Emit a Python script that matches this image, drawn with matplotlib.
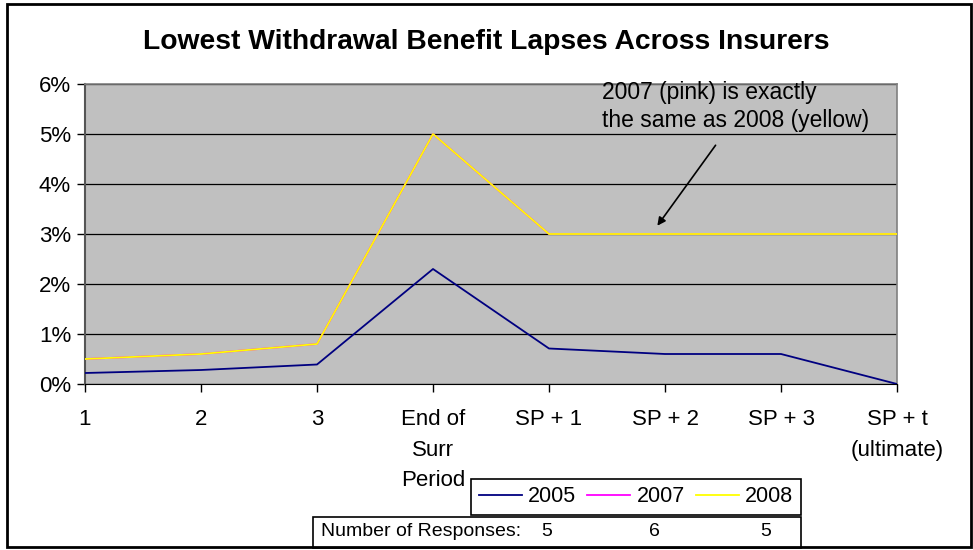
import matplotlib
matplotlib.use("Agg")
import matplotlib.pyplot as plt
from matplotlib.patches import Rectangle
from matplotlib.ticker import PercentFormatter

# chart data (percent)
categories = ["1", "2", "3", "End of\nSurr\nPeriod", "SP + 1", "SP + 2", "SP + 3", "SP + t\n(ultimate)"]
lapse_2005 = [0.22, 0.28, 0.39, 2.3, 0.71, 0.6, 0.6, 0.0]
lapse_2007 = [0.5, 0.6, 0.8, 5.0, 3.0, 3.0, 3.0, 3.0]
lapse_2008 = [0.5, 0.6, 0.8, 5.0, 3.0, 3.0, 3.0, 3.0]
years = ["2005", "2007", "2008"]
responses = [5, 6, 5]

plt.rcParams['font.family'] = ['Liberation Sans', 'DejaVu Sans']

W, H = 973, 550
fig = plt.figure(figsize=(W / 100, H / 100), dpi=100)

def fx(px):
    return px / W

def fy(py):
    return 1 - py / H

# plot area
ax = fig.add_axes([fx(85), fy(384), fx(897 - 85), (384 - 84) / H])
ax.set_facecolor("#C0C0C0")
xs = list(range(len(categories)))
ax.plot(xs, lapse_2005, color="#000080", lw=1.3, label=years[0], zorder=3)
ax.plot(xs, lapse_2007, color="#FF00FF", lw=1.3, label=years[1], zorder=3)
ax.plot(xs, lapse_2008, color="#FFFF00", lw=1.3, label=years[2], zorder=4)

ax.set_xlim(0, len(categories) - 1)
ax.set_ylim(0, 6)
ax.set_yticks(range(0, 7))
ax.yaxis.set_major_formatter(PercentFormatter(100, decimals=0))
ax.set_xticks(xs)
ax.set_xticklabels(categories, linespacing=1.6, fontsize=16, va="top")
ax.tick_params(axis="y", labelsize=16, length=6, width=1, color="black", pad=4)
ax.tick_params(axis="x", length=6, width=1, color="black", pad=12)
ax.grid(axis="y", color="black", lw=0.9)
ax.set_axisbelow(True)
for s in ["top", "right"]:
    ax.spines[s].set_color("#808080")
    ax.spines[s].set_linewidth(1.2)
ax.spines["left"].set_color("#555555")
ax.spines["left"].set_linewidth(1.5)
ax.spines["bottom"].set_color("black")

# annotation
ax.text(4.457, 6.05, "2007 (pink) is exactly\nthe same as 2008 (yellow)", fontsize=16.5,
        va="top", ha="left", linespacing=1.25, clip_on=False)
ax.annotate("", xy=(4.92, 3.12), xytext=(5.45, 4.82),
            arrowprops=dict(arrowstyle="-|>", color="black", lw=1.2, mutation_scale=12))

fig.text(0.5, fy(42), "Lowest Withdrawal Benefit Lapses Across Insurers",
         fontsize=20.3, fontweight="bold", ha="center", va="center")

# legend
leg = fig.legend(loc="center", bbox_to_anchor=(fx(471), fy(517), fx(801 - 471), 40 / H),
                 mode="expand", ncol=3, frameon=True, fancybox=False, edgecolor="black",
                 framealpha=1, fontsize=15.5, handlelength=2.0, handletextpad=0.28,
                 columnspacing=0.45, borderaxespad=0, borderpad=0.35)
leg.get_frame().set_linewidth(1.2)
leg.set_zorder(7)

# responses box
fig.patches.append(Rectangle((fx(313), fy(548)), fx(801 - 313), 31 / H, transform=fig.transFigure,
                             facecolor="white", edgecolor="black", lw=1.2, zorder=5))
fig.text(fx(321), fy(532), "Number of Responses:", fontsize=14,
         va="center", ha="left", zorder=6)
for px, n in zip([547, 654, 766], responses):
    fig.text(fx(px), fy(532), str(n), fontsize=14, va="center", ha="center", zorder=6)

# outer frame
fig.patches.append(Rectangle((fx(7), fy(547)), fx(971 - 7), (547 - 4) / H, transform=fig.transFigure,
                             facecolor="none", edgecolor="black", lw=2, zorder=10))

fig.savefig("out.png", dpi=100)
